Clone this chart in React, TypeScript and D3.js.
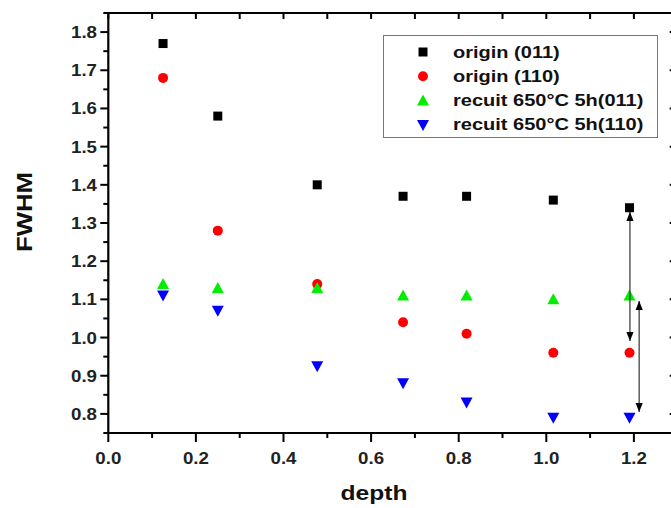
import React from "react";
import * as d3 from "d3";

const depths = [0.125, 0.25, 0.477, 0.673, 0.818, 1.016, 1.19];
const origin011 = [1.77, 1.58, 1.40, 1.37, 1.37, 1.36, 1.34];
const origin110 = [1.68, 1.28, 1.14, 1.04, 1.01, 0.96, 0.96];
const recuit011 = [1.14, 1.13, 1.13, 1.11, 1.11, 1.10, 1.11];
const recuit110 = [1.11, 1.07, 0.925, 0.88, 0.83, 0.79, 0.79];
const seriesNames = ["origin (011)", "origin (110)", "recuit 650°C 5h(011)", "recuit 650°C 5h(110)"];
const xTicks = [0, 0.2, 0.4, 0.6, 0.8, 1.0, 1.2];
const yTicks = [0.8, 0.9, 1.0, 1.1, 1.2, 1.3, 1.4, 1.5, 1.6, 1.7, 1.8];
// arrows: [x, yTop, yBottom]
const arrows = [
  [1.191, 1.329, 0.991],
  [1.212, 1.096, 0.805],
];

const W = 671, H = 508;
const FONT = "'Liberation Sans', Arial, sans-serif";

function Marker({ kind, x, y }: { kind: number; x: number; y: number }) {
  if (kind === 0) return <rect x={x - 4.5} y={y - 4.5} width={9} height={9} fill="#000" />;
  if (kind === 1) return <circle cx={x} cy={y} r={5} fill="#ff0000" />;
  if (kind === 2)
    return <path d={`M${x - 6},${y + 5} L${x + 6},${y + 5} L${x},${y - 6} Z`} fill="#00ee00" />;
  return <path d={`M${x - 6},${y - 5} L${x + 6},${y - 5} L${x},${y + 6} Z`} fill="#0000ff" />;
}

export default function App() {
  const x = d3.scaleLinear().domain([0, 1.3]).range([108.3, 677.7]);
  const y = d3.scaleLinear().domain([0.75, 1.85]).range([433, 13]);
  const [x0, x1] = x.range();
  const [y0, y1] = y.range();
  const xMinor = d3.range(0, 1.301, 0.1);
  const yMinor = d3.range(0.75, 1.851, 0.05);
  const all = [origin011, origin110, recuit011, recuit110];
  const SX = 1.1;

  return (
    <svg width={W} height={H} style={{ position: "absolute", left: 0, top: 0, background: "#fff" }}>
      <defs>
        <marker id="ah" viewBox="0 0 10 10" refX="10" refY="5" markerWidth="9" markerHeight="9" orient="auto-start-reverse" markerUnits="userSpaceOnUse">
          <path d="M0,1 L10,5 L0,9 Z" fill="#000" />
        </marker>
      </defs>
      <rect x={0} y={0} width={W} height={H} fill="#fff" />
      {/* frame */}
      <g stroke="#000" strokeWidth={2.2} fill="none">
        <line x1={x0} x2={x0} y1={y0 + 1} y2={y1 - 1} />
        <line x1={x0 - 1} x2={x1} y1={y0} y2={y0} />
        <line x1={x0 - 1} x2={x1} y1={y1} y2={y1} />
        <line x1={x1} x2={x1} y1={y0} y2={y1} />
      </g>
      {/* ticks */}
      <g stroke="#000" strokeWidth={2}>
        {xMinor.map((v, i) => (
          <line key={"bx" + i} x1={x(v)} x2={x(v)} y1={y0} y2={y0 + (i % 2 === 0 ? 9 : 5)} />
        ))}
        {xMinor.map((v, i) => (
          <line key={"tx" + i} x1={x(v)} x2={x(v)} y1={y1} y2={y1 + 6} />
        ))}
        {yMinor.map((v, i) => (
          <line key={"ly" + i} x1={x0} x2={x0 - (i % 2 === 1 ? 8 : 5)} y1={y(v)} y2={y(v)} />
        ))}
        {yTicks.map((v, i) => (
          <line key={"ry" + i} x1={x1} x2={x1 - 8} y1={y(v)} y2={y(v)} />
        ))}
      </g>
      {/* tick labels */}
      <g fontFamily={FONT} fontWeight="bold" fontSize={17} fill="#222">
        {xTicks.map((v) => (
          <text key={"xl" + v} transform={`translate(${x(v)},463.5) scale(${SX},1)`} textAnchor="middle">{v.toFixed(1)}</text>
        ))}
        {yTicks.map((v) => (
          <text key={"yl" + v} transform={`translate(97,${y(v) + 6}) scale(${SX},1)`} textAnchor="end">{v.toFixed(1)}</text>
        ))}
      </g>
      {/* axis titles */}
      <text transform={`translate(374,500) scale(1.17,1)`} textAnchor="middle" fontFamily={FONT} fontWeight="bold" fontSize={21} fill="#111">depth</text>
      <text transform={`translate(32,212) rotate(-90) scale(1.12,1)`} textAnchor="middle" fontFamily={FONT} fontWeight="bold" fontSize={23} fill="#111">FWHM</text>
      {/* data */}
      {all.map((s, k) => (
        <g key={"s" + k}>
          {s.map((v, i) => (
            <Marker key={i} kind={k} x={x(depths[i])} y={y(v)} />
          ))}
        </g>
      ))}
      {/* arrows */}
      {arrows.map((a, i) => (
        <line key={"ar" + i} x1={x(a[0])} x2={x(a[0])} y1={y(a[1])} y2={y(a[2])} stroke="#333" strokeWidth={1.2}
          markerStart="url(#ah)" markerEnd="url(#ah)" />
      ))}
      {/* legend */}
      <rect x={383.5} y={35.5} width={274} height={102} fill="#fff" stroke="#777" strokeWidth={1} />
      {seriesNames.map((n, i) => (
        <g key={"lg" + i}>
          <Marker kind={i} x={423} y={52 + i * 24.3} />
          <text transform={`translate(453,${52 + i * 24.3 + 5.5}) scale(1.25,1)`} fontFamily={FONT} fontWeight="bold" fontSize={16} fill="#111">{n}</text>
        </g>
      ))}
    </svg>
  );
}
